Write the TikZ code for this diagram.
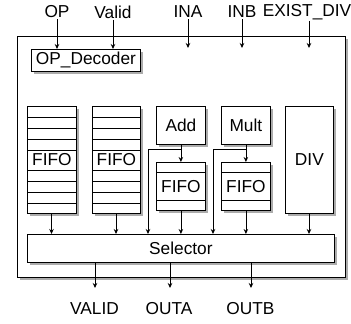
\documentclass[tikz,border=0pt]{standalone}
\usepackage{fontspec}
\setmainfont{Liberation Sans}
\usetikzlibrary{shadows,arrows.meta}
\begin{document}
\begin{tikzpicture}[x=1pt,y=-1pt,
  box/.style={draw=black,fill=white,line width=0.8pt,inner sep=0pt,anchor=north west,
    drop shadow={shadow xshift=2.5pt,shadow yshift=-2.5pt,fill=gray!65,opacity=1}},
  lbl/.style={inner sep=1pt},
  arr/.style={line width=0.8pt,-{Stealth[length=5pt,width=4.5pt]}},
  ln/.style={line width=0.8pt},
  every node/.append style={font=\fontsize{17.3}{20}\selectfont}]
\useasboundingbox (0,0) rectangle (351,324);
% outer chip
\node[box,minimum width=328pt,minimum height=241pt] (chip) at (17,36) {};
% boxes
\node[box,minimum width=109pt,minimum height=22pt] (dec) at (31,49) {OP\_Decoder};
\node[box,minimum width=49pt,minimum height=107pt] (f1) at (27,106) {FIFO};
\node[box,minimum width=48pt,minimum height=107pt] (f2) at (92,106) {FIFO};
\node[box,minimum width=49pt,minimum height=38pt] (add) at (156,106) {Add};
\node[box,minimum width=49pt,minimum height=38pt] (mult) at (221,106) {Mult};
\node[box,minimum width=49pt,minimum height=48pt] (fa) at (156,162) {FIFO};
\node[box,minimum width=49pt,minimum height=48pt] (fb) at (221,162) {FIFO};
\node[box,minimum width=48pt,minimum height=107pt] (div) at (285,106) {DIV};
\node[box,minimum width=307pt,minimum height=28pt] (sel) at (27,234) {Selector};
% FIFO stripes
\foreach \yy in {117,128,139,150,170,181,192,203}{
  \draw[ln] (f1.west |- 0,\yy) -- (f1.east |- 0,\yy);
  \draw[ln] (f2.west |- 0,\yy) -- (f2.east |- 0,\yy);
}
\foreach \yy in {172,200}{
  \draw[ln] (fa.west |- 0,\yy) -- (fa.east |- 0,\yy);
  \draw[ln] (fb.west |- 0,\yy) -- (fb.east |- 0,\yy);
}
% top labels
\node[lbl] (op) at (57,12) {OP};
\node[lbl] (valid) at (113,12) {Valid};
\node[lbl] (ina) at (188,12) {INA};
\node[lbl] (inb) at (242,12) {INB};
\node[lbl] (ediv) at (307,12) {EXIST\_DIV};
\coordinate (inaend) at (188,48);
\coordinate (inbend) at (242,48);
\coordinate (edivend) at (309,48);
\draw[arr] (op.south) -- (op.south |- dec.north);
\draw[arr] (valid.south) -- (valid.south |- dec.north);
\draw[arr] (ina.south) -- (inaend);
\draw[arr] (inb.south) -- (inbend);
\draw[arr] (edivend |- ediv.south) -- (edivend);
% add/mult to FIFO with bypass
\coordinate (ja) at (180.5,149);
\coordinate (ba) at (148,149);
\coordinate (jb) at (245.5,149);
\coordinate (bb) at (213,149);
\draw[arr] (add.south) -- (fa.north);
\draw[arr] (mult.south) -- (fb.north);
\draw[ln] (ja) -- (ba);
\draw[ln] (jb) -- (bb);
\draw[arr] (ba) -- (ba |- sel.north);
\draw[arr] (bb) -- (bb |- sel.north);
% into selector
\draw[arr] (f1.south -| 51.5,0) -- (sel.north -| 51.5,0);
\draw[arr] (f2.south -| 116,0) -- (sel.north -| 116,0);
\draw[arr] (fa.south) -- (fa.south |- sel.north);
\draw[arr] (fb.south) -- (fb.south |- sel.north);
\draw[arr] (div.south -| 309,0) -- (sel.north -| 309,0);
% outputs
\node[lbl] (ov) at (94.5,309) {VALID};
\node[lbl] (oa) at (169,309) {OUTA};
\node[lbl] (ob) at (250.5,309) {OUTB};
\draw[arr] (sel.south -| 95,0) -- (95,288);
\draw[arr] (sel.south -| 170,0) -- (170,288);
\draw[arr] (sel.south -| 251,0) -- (251,288);
\end{tikzpicture}
\end{document}
